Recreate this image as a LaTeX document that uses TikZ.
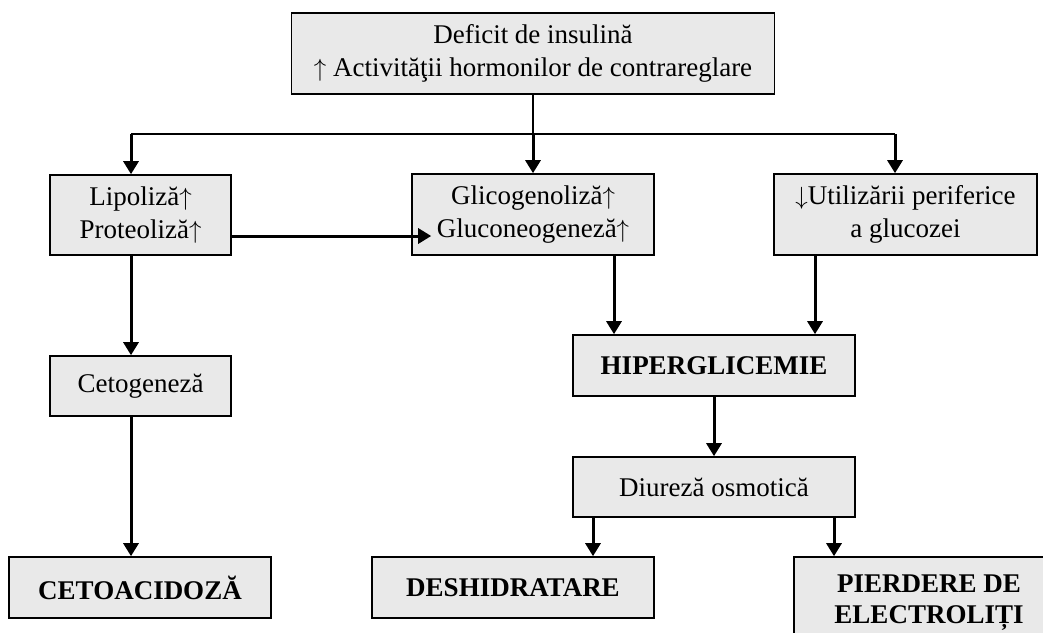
\documentclass[tikz,border=0pt]{standalone}
\usepackage{fontspec}
\setmainfont{Liberation Serif}
\usetikzlibrary{arrows.meta}
\definecolor{boxfill}{HTML}{E9E9E9}
\newcommand{\upar}{$\uparrow$}
\newcommand{\dnar}{$\downarrow$}
\begin{document}
\begin{tikzpicture}[x=1pt,y=-1pt,
  box/.style={draw=black,line width=1.6pt,fill=boxfill,inner sep=0pt,align=center,
    font=\fontsize{27}{33}\selectfont},
  bbox/.style={box,font=\fontsize{27}{31}\selectfont\bfseries},
  arr/.style={line width=3pt,-{Triangle[width=15pt,length=13pt]}},
  thinline/.style={line width=1.8pt}]
\clip (0,0) rectangle (1043,632);
% boxes
\node[box,minimum width=483pt,minimum height=81pt] (top) at (533,53.5)
  {Deficit de insulină\\\upar{} Activităţii hormonilor de contrareglare};
\node[box,minimum width=181pt,minimum height=80pt] (lip) at (140.5,215)
  {Lipoliză\upar\\Proteoliză\upar};
\node[box,minimum width=242pt,minimum height=81pt] (gli) at (533,214.5)
  {Glicogenoliză\upar\\Gluconeogeneză\upar};
\node[box,minimum width=263pt,minimum height=81pt] (util) at (905.5,214.5)
  {\dnar Utilizării periferice\\a glucozei};
\node[box,minimum width=181pt,minimum height=60pt] (ceto) at (140.5,386)
  {Cetogeneză};
\node[bbox,minimum width=282pt,minimum height=61pt] (hiper) at (714,365.5)
  {HIPERGLICEMIE};
\node[box,minimum width=282pt,minimum height=60pt] (diur) at (714,487)
  {Diureză osmotică};
\node[bbox,minimum width=262pt,minimum height=61pt] (cetoa) at (140,587.5)
  {CETOACIDOZĂ};
\node[bbox,minimum width=282pt,minimum height=61pt] (desh) at (513,587.5)
  {DESHIDRATARE};
\node[bbox,minimum width=270pt,minimum height=91pt] (pierd) at (929,602.5)
  {PIERDERE DE\\ELECTROLIȚI};
% junction coordinates
\coordinate (jl) at (131,134);
\coordinate (jm) at (533,134);
\coordinate (jr) at (895,134);
\coordinate (xg) at (614,0);
\coordinate (xu) at (815,0);
\coordinate (xd) at (593,0);
\coordinate (xp) at (834,0);
% connectors
\draw[thinline] (top.south) -- (jm);
\draw[thinline] (jl) -- (jr);
\draw[arr] (jl) -- (jl |- lip.north);
\draw[arr] (jm) -- (gli.north);
\draw[arr] (jr) -- (jr |- util.north);
\draw[arr] ([yshift=-21pt]lip.east) -- ([xshift=20pt,yshift=-21.5pt]gli.west);
\draw[arr] (lip.south -| jl) -- (ceto.north -| jl);
\draw[arr] (ceto.south -| jl) -- (cetoa.north -| jl);
\draw[arr] (gli.south -| xg) -- (hiper.north -| xg);
\draw[arr] (util.south -| xu) -- (hiper.north -| xu);
\draw[arr] (hiper.south) -- (diur.north);
\draw[arr] (diur.south -| xd) -- (desh.north -| xd);
\draw[arr] (diur.south -| xp) -- (pierd.north -| xp);
\end{tikzpicture}
\end{document}
